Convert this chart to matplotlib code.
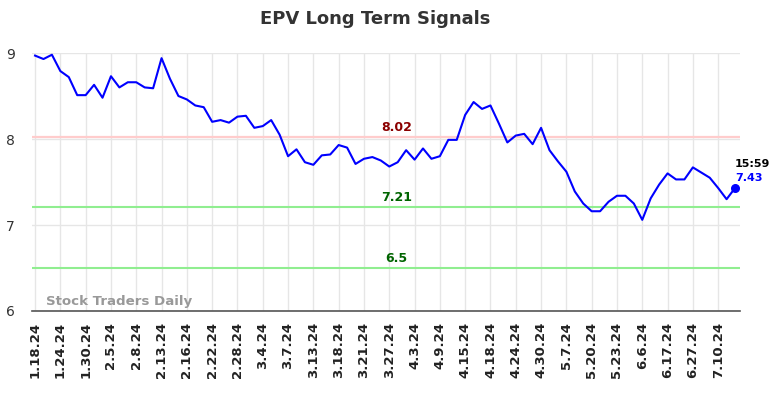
import matplotlib
matplotlib.use("Agg")
import matplotlib.pyplot as plt

# closing prices, 3 points between each labelled date
prices = [
    8.97, 8.93, 8.98, 8.79, 8.72, 8.51, 8.51, 8.63, 8.48, 8.73,
    8.60, 8.66, 8.66, 8.60, 8.59, 8.94, 8.70, 8.50, 8.46, 8.39,
    8.37, 8.20, 8.22, 8.19, 8.26, 8.27, 8.13, 8.15, 8.22, 8.05,
    7.80, 7.88, 7.73, 7.70, 7.81, 7.82, 7.93, 7.90, 7.71, 7.77,
    7.79, 7.75, 7.68, 7.73, 7.87, 7.76, 7.89, 7.77, 7.80, 7.99,
    7.99, 8.28, 8.43, 8.35, 8.39, 8.18, 7.96, 8.04, 8.06, 7.94,
    8.13, 7.87, 7.74, 7.62, 7.39, 7.25, 7.16, 7.16, 7.27, 7.34,
    7.34, 7.25, 7.06, 7.31, 7.47, 7.60, 7.53, 7.53, 7.67, 7.61,
    7.55, 7.43, 7.30, 7.43,
]
tick_labels = [
    "1.18.24", "1.24.24", "1.30.24", "2.5.24", "2.8.24", "2.13.24", "2.16.24",
    "2.22.24", "2.28.24", "3.4.24", "3.7.24", "3.13.24", "3.18.24", "3.21.24",
    "3.27.24", "4.3.24", "4.9.24", "4.15.24", "4.18.24", "4.24.24", "4.30.24",
    "5.7.24", "5.20.24", "5.23.24", "6.6.24", "6.17.24", "6.27.24", "7.10.24",
]
resistance = 8.02
supports = [7.21, 6.5]
last_time = "15:59"

x = list(range(len(prices)))
tick_pos = list(range(0, len(prices), 3))[:len(tick_labels)]

fig = plt.figure(figsize=(7.84, 3.98), dpi=100)
ax = fig.add_axes([0.0404, 0.2186, 0.9036, 0.6482])

ax.plot(x, prices, color="blue", lw=1.5, zorder=3)
ax.scatter([x[-1]], [prices[-1]], s=30, color="blue", zorder=4)

# level labels sit a little right of the middle
lbl_x = 0.515
ax.axhline(resistance, color="#ffcccc", lw=1.6, zorder=2)
ax.text(lbl_x, resistance + 0.04, f"{resistance}", color="#8b0000", fontsize=9,
        fontweight="bold", ha="center", va="bottom",
        transform=ax.get_yaxis_transform())
for s in supports:
    ax.axhline(s, color="#90ee90", lw=1.5, zorder=2)
    ax.text(lbl_x, s + 0.04, f"{s}", color="#006400", fontsize=9,
            fontweight="bold", ha="center", va="bottom",
            transform=ax.get_yaxis_transform())

ax.text(x[-1], prices[-1] + 0.22, last_time, color="black", fontsize=8,
        fontweight="bold", ha="left", va="bottom")
ax.text(x[-1], prices[-1] + 0.06, f"{prices[-1]}", color="blue", fontsize=8,
        fontweight="bold", ha="left", va="bottom")

ax.text(1.3, 6.03, "Stock Traders Daily", color="#999999", fontsize=9.6,
        fontweight="bold", ha="left", va="bottom")

ax.set_xlim(-0.4, len(prices) - 0.4)
ax.set_ylim(6, 9.0)
ax.set_yticks([6, 7, 8, 9])
ax.set_xticks(tick_pos)
ax.set_xticklabels(tick_labels, rotation=90, fontsize=9.5, fontweight="bold")
ax.tick_params(axis="both", length=0, colors="#333333")
ax.tick_params(axis="x", pad=8, colors="#222222")
ax.tick_params(axis="y", pad=12, labelsize=10)
ax.grid(True, color="#e6e6e6", lw=1)
ax.set_axisbelow(True)
for side in ["top", "right", "left"]:
    ax.spines[side].set_visible(False)
ax.spines["bottom"].set_color("#555555")
ax.spines["bottom"].set_linewidth(1.2)

fig.suptitle("EPV Long Term Signals", x=0.479, y=0.975, fontsize=13,
             fontweight="bold", color="#333333")

fig.savefig("out.png", dpi=100)
